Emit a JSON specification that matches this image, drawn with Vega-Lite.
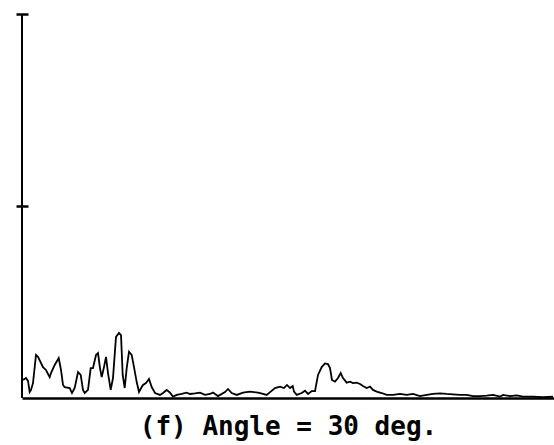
{
  "$schema": "https://vega.github.io/schema/vega-lite/v6.json",
  "width": 532,
  "height": 384,
  "autosize": {"type": "none"},
  "padding": {"left": 22, "top": 14, "right": 0, "bottom": 47},
  "background": "white",
  "config": {
    "view": {"stroke": null},
    "axisX": {
      "domain": true,
      "domainColor": "black",
      "domainWidth": 2.5,
      "ticks": false,
      "labels": false,
      "grid": false,
      "titleFont": "DejaVu Sans Mono",
      "titleFontWeight": "bold",
      "titleFontSize": 26,
      "titleColor": "black",
      "titlePadding": 15
    },
    "axisY": {
      "domain": false,
      "labels": false,
      "grid": false,
      "tickSize": 12,
      "tickWidth": 2.5,
      "tickColor": "black",
      "offset": -6
    }
  },
  "encoding": {
    "x": {
      "field": "t",
      "type": "quantitative",
      "scale": {"domain": [0, 532], "nice": false},
      "axis": {"title": "(f) Angle = 30 deg."}
    }
  },
  "layer": [
    {
      "data": {"values": [{"t": 0, "lo": 0, "hi": 2}]},
      "mark": {"type": "rule", "color": "black", "strokeWidth": 2},
      "encoding": {
        "y": {"field": "lo", "type": "quantitative", "scale": {"domain": [0, 2], "nice": false}, "axis": {"values": [1, 2], "title": null}},
        "y2": {"field": "hi"}
      }
    },
    {
      "data": {"values": [
        {"t": 1, "amp": 0.094}, {"t": 4, "amp": 0.104}, {"t": 6, "amp": 0.089}, {"t": 7.7, "amp": 0.031},
        {"t": 9, "amp": 0.042}, {"t": 11, "amp": 0.078}, {"t": 14, "amp": 0.224}, {"t": 16, "amp": 0.214},
        {"t": 21, "amp": 0.161}, {"t": 24, "amp": 0.146}, {"t": 27.7, "amp": 0.109}, {"t": 29, "amp": 0.13},
        {"t": 32.7, "amp": 0.172}, {"t": 36.7, "amp": 0.208}, {"t": 39, "amp": 0.146}, {"t": 41, "amp": 0.068},
        {"t": 42.7, "amp": 0.057}, {"t": 47.7, "amp": 0.052}, {"t": 50, "amp": 0.026}, {"t": 52.7, "amp": 0.052},
        {"t": 56, "amp": 0.135}, {"t": 58.7, "amp": 0.12}, {"t": 61, "amp": 0.042}, {"t": 62.7, "amp": 0.026},
        {"t": 66, "amp": 0.042}, {"t": 68.7, "amp": 0.156}, {"t": 71, "amp": 0.156}, {"t": 74, "amp": 0.224},
        {"t": 76, "amp": 0.234}, {"t": 78, "amp": 0.156}, {"t": 79.7, "amp": 0.109}, {"t": 82, "amp": 0.161},
        {"t": 84, "amp": 0.214}, {"t": 86, "amp": 0.13}, {"t": 88.7, "amp": 0.042}, {"t": 91, "amp": 0.104},
        {"t": 94, "amp": 0.318}, {"t": 97, "amp": 0.339}, {"t": 99, "amp": 0.328}, {"t": 100.7, "amp": 0.12},
        {"t": 102.7, "amp": 0.052}, {"t": 104.7, "amp": 0.156}, {"t": 107, "amp": 0.24}, {"t": 109.7, "amp": 0.224},
        {"t": 112, "amp": 0.161}, {"t": 114.7, "amp": 0.083}, {"t": 117, "amp": 0.031}, {"t": 119.7, "amp": 0.057},
        {"t": 121, "amp": 0.068}, {"t": 124, "amp": 0.078}, {"t": 127, "amp": 0.099}, {"t": 129.7, "amp": 0.057},
        {"t": 133, "amp": 0.026}, {"t": 138, "amp": 0.016}, {"t": 141, "amp": 0.026}, {"t": 144.7, "amp": 0.042},
        {"t": 148, "amp": 0.028}, {"t": 151, "amp": 0.007}, {"t": 154.7, "amp": 0.016}, {"t": 159.7, "amp": 0.021},
        {"t": 164.7, "amp": 0.028}, {"t": 168, "amp": 0.021}, {"t": 173, "amp": 0.024}, {"t": 178, "amp": 0.028},
        {"t": 183, "amp": 0.016}, {"t": 188, "amp": 0.021}, {"t": 191, "amp": 0.028}, {"t": 196, "amp": 0.01},
        {"t": 203, "amp": 0.031}, {"t": 206, "amp": 0.047}, {"t": 209.7, "amp": 0.026}, {"t": 214.7, "amp": 0.016},
        {"t": 221, "amp": 0.028}, {"t": 228, "amp": 0.033}, {"t": 236, "amp": 0.028}, {"t": 241, "amp": 0.021},
        {"t": 244.7, "amp": 0.016}, {"t": 248.7, "amp": 0.033}, {"t": 253, "amp": 0.052}, {"t": 258, "amp": 0.059},
        {"t": 262, "amp": 0.052}, {"t": 265, "amp": 0.068}, {"t": 268, "amp": 0.052}, {"t": 270.7, "amp": 0.0625},
        {"t": 272, "amp": 0.033}, {"t": 274.7, "amp": 0.016}, {"t": 279.7, "amp": 0.026}, {"t": 283, "amp": 0.038},
        {"t": 286, "amp": 0.021}, {"t": 289.7, "amp": 0.036}, {"t": 293, "amp": 0.036}, {"t": 296, "amp": 0.12},
        {"t": 299.7, "amp": 0.161}, {"t": 303, "amp": 0.18}, {"t": 306, "amp": 0.177}, {"t": 308, "amp": 0.156},
        {"t": 310, "amp": 0.094}, {"t": 313, "amp": 0.085}, {"t": 316, "amp": 0.104}, {"t": 318.7, "amp": 0.13},
        {"t": 321, "amp": 0.104}, {"t": 324.7, "amp": 0.08}, {"t": 328, "amp": 0.085}, {"t": 331, "amp": 0.078},
        {"t": 334.7, "amp": 0.08}, {"t": 338, "amp": 0.073}, {"t": 341, "amp": 0.0625}, {"t": 344.7, "amp": 0.052},
        {"t": 348, "amp": 0.059}, {"t": 351, "amp": 0.042}, {"t": 354.7, "amp": 0.033}, {"t": 359.7, "amp": 0.026},
        {"t": 364.7, "amp": 0.016}, {"t": 371, "amp": 0.016}, {"t": 378, "amp": 0.021}, {"t": 384.7, "amp": 0.016},
        {"t": 391, "amp": 0.021}, {"t": 398, "amp": 0.01}, {"t": 404.7, "amp": 0.016}, {"t": 411, "amp": 0.021},
        {"t": 418, "amp": 0.024}, {"t": 424.7, "amp": 0.021}, {"t": 431, "amp": 0.019}, {"t": 438, "amp": 0.016},
        {"t": 444.7, "amp": 0.016}, {"t": 451, "amp": 0.01}, {"t": 458, "amp": 0.01}, {"t": 464.7, "amp": 0.012},
        {"t": 471, "amp": 0.016}, {"t": 478, "amp": 0.007}, {"t": 481, "amp": 0.016}, {"t": 488, "amp": 0.01},
        {"t": 494.7, "amp": 0.014}, {"t": 501, "amp": 0.007}, {"t": 511, "amp": 0.007}, {"t": 521, "amp": 0.004},
        {"t": 531, "amp": 0.007}
      ]},
      "mark": {"type": "line", "color": "black", "strokeWidth": 1.8},
      "encoding": {
        "y": {"field": "amp", "type": "quantitative", "axis": {"values": [1, 2], "title": null}}
      }
    }
  ]
}
